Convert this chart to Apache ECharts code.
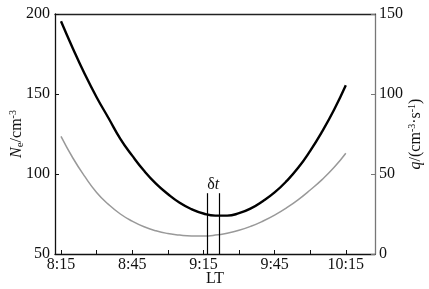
<!DOCTYPE html>
<html>
<head>
<meta charset="utf-8">
<script src="https://cdn.jsdelivr.net/npm/echarts@6/dist/echarts.min.js"></script>
<style>html,body{margin:0;padding:0;background:#fff;}#c{width:429px;height:289px;}</style>
</head>
<body>
<div id="c"></div>
<script>
// minutes after 8:00
var times = [15,20,25,30,35,40,45,50,55,60,65,70,75,80,85,90,95,100,105,110,115,120,125,130,135];
var neValues = [195.5,178.5,162.5,148,135,122,111.5,102,94,87.5,82,78,75.3,74,74,75.5,78.5,83,88.5,95.5,104,114.5,126.5,140,155.5];
var qValues = [73.5,60,48.5,38.5,31,25,20.5,17,14.5,12.8,11.8,11.3,11.3,11.8,13,14.8,17.3,20.5,24.3,28.8,34,40,46.5,54,63];
var labelTimes = [15,45,75,105,135];
var tickTimes = [15,30,45,60,75,90,105,120,135];
var deltaT = [76.6, 81.7];

var font = 'Liberation Serif';
function fmt(v){ var h = 8 + Math.floor(v/60); var m = Math.round(v%60); return h + ':' + (m<10?'0':'') + m; }
var ne = times.map(function(t,i){return [t, neValues[i]];});
var q = times.map(function(t,i){return [t, qValues[i]];});

var chart = echarts.init(document.getElementById('c'), null, {renderer:'canvas'});
chart.setOption({
  animation:false,
  backgroundColor:'#fff',
  grid:{left:55, right:54, top:14, bottom:35, containLabel:false, outerBoundsMode:'none'},
  xAxis:[{
    type:'value', min:12.47, max:147.3,
    axisLine:{show:true, onZero:false, lineStyle:{color:'#111', width:1.3}},
    axisTick:{show:true, inside:true, length:4, customValues:tickTimes, lineStyle:{color:'#111'}},
    axisLabel:{customValues:labelTimes, formatter:function(v){return fmt(v);}, color:'#111', fontFamily:font, fontSize:16, margin:3},
    splitLine:{show:false},
    name:'LT', nameLocation:'middle', nameGap:17, nameMoveOverlap:false,
    nameTextStyle:{color:'#111', fontFamily:font, fontSize:16}
  },{
    type:'value', position:'top', min:12.47, max:147.3,
    axisLine:{show:true, onZero:false, lineStyle:{color:'#222', width:1.3}},
    axisTick:{show:false}, axisLabel:{show:false}, splitLine:{show:false}
  }],
  yAxis:[{
    type:'value', min:50, max:200, interval:50,
    axisLine:{show:true, onZero:false, lineStyle:{color:'#111', width:1.3}},
    axisTick:{show:true, inside:true, length:4, lineStyle:{color:'#111'}},
    axisLabel:{color:'#111', fontFamily:font, fontSize:16, margin:5},
    splitLine:{show:false},
    name:'{i|N}{sub|e}{r|/cm}{sup|-3}', nameLocation:'middle', nameGap:29, nameRotate:90, nameMoveOverlap:false,
    nameTextStyle:{color:'#111', fontFamily:font, fontSize:16,
      rich:{
        i:{fontFamily:font, fontStyle:'italic', fontSize:16, color:'#111', lineHeight:18},
        sub:{fontFamily:font, fontSize:11, color:'#111', verticalAlign:'bottom', lineHeight:18, padding:[6,0,0,0]},
        r:{fontFamily:font, fontSize:16, color:'#111', lineHeight:18},
        sup:{fontFamily:font, fontSize:10, color:'#111', verticalAlign:'top', lineHeight:18, padding:[0,0,8,0]}
      }}
  },{
    type:'value', position:'right', min:0, max:150, interval:50,
    axisLine:{show:true, onZero:false, lineStyle:{color:'#777', width:1.3}},
    axisTick:{show:true, inside:true, length:4, lineStyle:{color:'#777'}},
    axisLabel:{color:'#111', fontFamily:font, fontSize:16, margin:4},
    splitLine:{show:false},
    name:'{i|q}{r|/(cm}{sup|-3}{r|·s}{sup|-1}{r|)}', nameLocation:'middle', nameGap:32, nameRotate:90, nameMoveOverlap:false,
    nameTextStyle:{color:'#111', fontFamily:font, fontSize:16,
      rich:{
        i:{fontFamily:font, fontStyle:'italic', fontSize:16, color:'#111', lineHeight:18},
        r:{fontFamily:font, fontSize:16, color:'#111', lineHeight:18},
        sup:{fontFamily:font, fontSize:10, color:'#111', verticalAlign:'top', lineHeight:18, padding:[0,0,8,0]}
      }}
  }],
  series:[{
    type:'line', xAxisIndex:0, yAxisIndex:0, data:ne, smooth:true, showSymbol:false,
    lineStyle:{color:'#000', width:2.4},
    markLine:{
      silent:true, symbol:'none', animation:false,
      lineStyle:{color:'#000', width:1.2, type:'solid'},
      label:{show:false},
      data:deltaT.map(function(t){return [{coord:[t,50]},{coord:[t,88]}];})
    },
    markPoint:{
      silent:true, symbolSize:0, animation:false,
      data:[{coord:[(deltaT[0]+deltaT[1])/2, 93],
        label:{show:true, position:'inside', formatter:'{d|δ}{t|t}',
          rich:{d:{fontFamily:font, fontSize:16, color:'#111'}, t:{fontFamily:font, fontSize:16, fontStyle:'italic', color:'#111'}}}}]
    }
  },{
    type:'line', xAxisIndex:0, yAxisIndex:1, data:q, smooth:true, showSymbol:false,
    lineStyle:{color:'#999', width:1.5}
  }]
});
</script>
</body>
</html>
